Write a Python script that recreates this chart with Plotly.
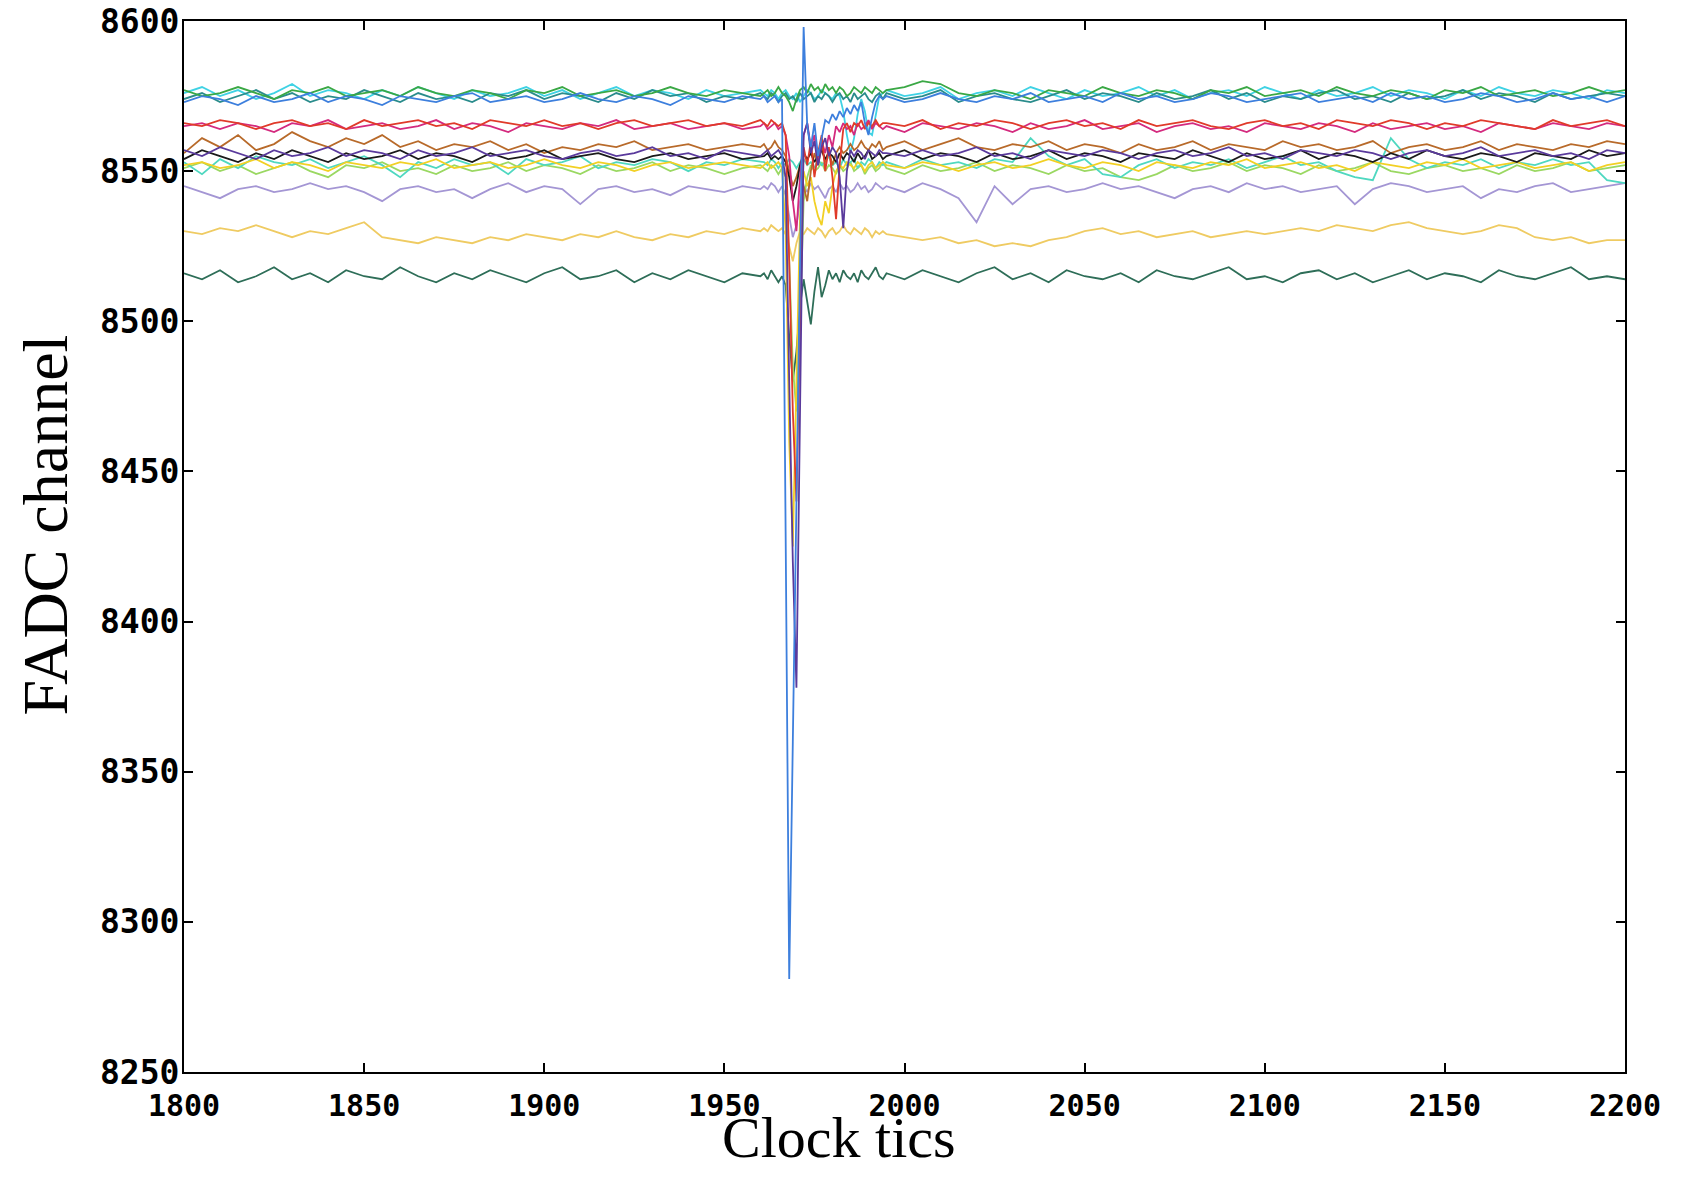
import plotly.graph_objects as go

# sample clock tics (coarse outside the pulse, every tic across the pulse)
CLOCK_TICS = list(range(1800, 1961, 5)) + list(range(1961, 1995)) + list(range(1995, 2201, 5))

X_TICKS = [1800, 1850, 1900, 1950, 2000, 2050, 2100, 2150, 2200]
Y_TICKS = [8250, 8300, 8350, 8400, 8450, 8500, 8550, 8600]

CYAN = [
    8576, 8578, 8575, 8577, 8574, 8576, 8579, 8575, 8577, 8576,
    8574, 8577, 8575, 8578, 8576, 8574, 8577, 8575, 8576, 8578,
    8575, 8577, 8574, 8576, 8578, 8575, 8577, 8576, 8574, 8577,
    8575, 8576, 8577,
] + [
    8576, 8575, 8577, 8576, 8574, 8576, 8577, 8575, 8574, 8576,
    8573, 8575, 8577, 8576, 8574, 8575, 8577, 8576, 8575, 8574,
    8576, 8575, 8570, 8562, 8556, 8561, 8569, 8574, 8570, 8563,
    8562, 8569, 8575, 8576,
] + [
    8577, 8575, 8576, 8578, 8574, 8576, 8577, 8575, 8578, 8576,
    8574, 8577, 8575, 8576, 8578, 8575, 8577, 8574, 8576, 8577,
    8575, 8578, 8576, 8574, 8577, 8575, 8576, 8578, 8575, 8577,
    8576, 8574, 8577, 8575, 8578, 8576, 8575, 8577, 8576, 8574,
    8577, 8576,
]

TEAL = [
    8574, 8576, 8573, 8575, 8577, 8574, 8576, 8573, 8575, 8574,
    8577, 8575, 8573, 8576, 8574, 8575, 8573, 8576, 8575, 8577,
    8574, 8576, 8575, 8573, 8576, 8574, 8577, 8575, 8576, 8573,
    8575, 8574, 8576,
] + [
    8575, 8574, 8576, 8575, 8573, 8575, 8576, 8574, 8575, 8573,
    8576, 8574, 8575, 8576, 8573, 8575, 8574, 8576, 8575, 8573,
    8575, 8576, 8574, 8575, 8573, 8576, 8574, 8575, 8576, 8574,
    8573, 8575, 8576, 8574,
] + [
    8576, 8574, 8575, 8577, 8573, 8575, 8576, 8574, 8573, 8575,
    8577, 8574, 8576, 8575, 8573, 8576, 8574, 8575, 8577, 8574,
    8576, 8573, 8575, 8574, 8576, 8577, 8574, 8575, 8573, 8576,
    8574, 8575, 8577, 8574, 8576, 8575, 8573, 8576, 8574, 8575,
    8576, 8575,
]

BLUE = [
    8573, 8575, 8574, 8572, 8575, 8573, 8574, 8576, 8573, 8575,
    8574, 8572, 8575, 8574, 8573, 8575, 8576, 8573, 8574, 8575,
    8573, 8574, 8576, 8574, 8573, 8575, 8574, 8572, 8575, 8574,
    8573, 8575, 8574,
] + [
    8575, 8573, 8574, 8575, 8573, 8574, 8430, 8281, 8360, 8440,
    8519, 8598, 8565, 8558, 8566, 8555, 8561, 8567, 8566, 8569,
    8567, 8570, 8568, 8571, 8569, 8572, 8570, 8573, 8566, 8562,
    8568, 8573, 8575, 8574,
] + [
    8575, 8573, 8574, 8576, 8574, 8573, 8575, 8574, 8576, 8573,
    8574, 8575, 8573, 8576, 8574, 8575, 8573, 8574, 8576, 8575,
    8573, 8574, 8575, 8576, 8573, 8574, 8575, 8573, 8576, 8574,
    8575, 8573, 8574, 8576, 8575, 8573, 8574, 8576, 8574, 8575,
    8573, 8575,
]

GREEN = [
    8577, 8575, 8576, 8578, 8576, 8574, 8577, 8576, 8578, 8575,
    8576, 8577, 8575, 8578, 8576, 8575, 8577, 8576, 8574, 8577,
    8576, 8578, 8575, 8576, 8577, 8575, 8576, 8578, 8576, 8575,
    8577, 8576, 8575,
] + [
    8576, 8577, 8575, 8576, 8578, 8576, 8575, 8573, 8570, 8574,
    8577, 8578, 8576, 8579, 8577, 8578, 8576, 8579, 8577, 8578,
    8576, 8578, 8577, 8575, 8576, 8578, 8577, 8576, 8578, 8577,
    8576, 8578, 8577, 8576,
] + [
    8577, 8578, 8580, 8579, 8576, 8575, 8577, 8576, 8574, 8577,
    8576, 8575, 8578, 8576, 8575, 8577, 8576, 8574, 8577, 8576,
    8578, 8575, 8576, 8577, 8575, 8578, 8576, 8575, 8577, 8576,
    8574, 8577, 8576, 8578, 8575, 8576, 8577, 8575, 8576, 8578,
    8576, 8577,
]

MAGENTA = [
    8565, 8566, 8564, 8566, 8565, 8563, 8566, 8565, 8567, 8564,
    8565, 8566, 8564, 8565, 8567, 8564, 8566, 8565, 8563, 8566,
    8565, 8564, 8566, 8565, 8567, 8564, 8565, 8566, 8564, 8565,
    8566, 8564, 8565,
] + [
    8566, 8564, 8565, 8566, 8564, 8565, 8562, 8555, 8540, 8530,
    8548, 8562, 8566, 8558, 8562, 8552, 8560, 8556, 8562, 8558,
    8565, 8563, 8566, 8564, 8565, 8562, 8566, 8564, 8565, 8567,
    8564, 8566, 8565, 8564,
] + [
    8565, 8563, 8566, 8565, 8564, 8566, 8565, 8563, 8566, 8564,
    8565, 8567, 8564, 8565, 8566, 8563, 8565, 8566, 8564, 8565,
    8563, 8566, 8565, 8564, 8566, 8565, 8563, 8566, 8564, 8565,
    8566, 8564, 8565, 8563, 8566, 8565, 8564, 8566, 8565, 8564,
    8566, 8565,
]

RED = [
    8566, 8565, 8567, 8566, 8564, 8566, 8567, 8565, 8566, 8564,
    8567, 8565, 8566, 8567, 8565, 8566, 8564, 8567, 8566, 8565,
    8567, 8565, 8566, 8564, 8566, 8567, 8565, 8566, 8567, 8565,
    8566, 8565, 8567,
] + [
    8566, 8565, 8567, 8566, 8565, 8566, 8562, 8520, 8470, 8440,
    8500, 8558, 8552, 8560, 8548, 8556, 8562, 8550, 8558, 8548,
    8534, 8552, 8564, 8566, 8563, 8566, 8565, 8567, 8564, 8566,
    8565, 8567, 8565, 8566,
] + [
    8566, 8565, 8567, 8564, 8566, 8565, 8567, 8566, 8564, 8566,
    8567, 8565, 8566, 8564, 8567, 8565, 8566, 8567, 8565, 8564,
    8566, 8567, 8565, 8566, 8564, 8567, 8566, 8565, 8567, 8566,
    8564, 8566, 8565, 8567, 8566, 8565, 8564, 8567, 8565, 8566,
    8567, 8565,
]

BROWN = [
    8556, 8561, 8558, 8562, 8557, 8559, 8563, 8560, 8558, 8561,
    8559, 8562, 8558, 8560, 8557, 8559, 8558, 8560, 8557, 8559,
    8556, 8558, 8557, 8559, 8558, 8560, 8557, 8558, 8559, 8557,
    8558, 8559, 8558,
] + [
    8559, 8557, 8558, 8560, 8558, 8557, 8555, 8550, 8545, 8548,
    8552, 8545, 8540, 8550, 8556, 8552, 8558, 8553, 8557, 8552,
    8556, 8558, 8556, 8557, 8559, 8557, 8558, 8560, 8558, 8557,
    8559, 8558, 8560, 8557,
] + [
    8558, 8560, 8557, 8559, 8561, 8558, 8557, 8559, 8558, 8560,
    8557, 8559, 8558, 8556, 8559, 8557, 8558, 8560, 8557, 8559,
    8558, 8557, 8560, 8558, 8559, 8557, 8558, 8560, 8556, 8558,
    8559, 8557, 8558, 8560, 8557, 8559, 8558, 8557, 8559, 8558,
    8560, 8559,
]

BLACK = [
    8554, 8557, 8555, 8553, 8556, 8554, 8557, 8555, 8553, 8556,
    8554, 8555, 8557, 8554, 8556, 8555, 8553, 8556, 8554, 8555,
    8557, 8554, 8555, 8556, 8554, 8553, 8555, 8556, 8554, 8555,
    8556, 8554, 8555,
] + [
    8555, 8556, 8554, 8555, 8554, 8555, 8553, 8548, 8540, 8545,
    8552, 8556, 8554, 8556, 8553, 8555, 8557, 8554, 8556, 8555,
    8553, 8556, 8554, 8556, 8555, 8553, 8556, 8554, 8555, 8557,
    8554, 8555, 8556, 8554,
] + [
    8555, 8557, 8554, 8556, 8555, 8553, 8556, 8554, 8555, 8557,
    8554, 8556, 8555, 8553, 8556, 8555, 8554, 8557, 8555, 8553,
    8556, 8554, 8555, 8557, 8554, 8556, 8555, 8553, 8556, 8554,
    8557, 8555, 8554, 8556, 8555, 8553, 8556, 8555, 8554, 8557,
    8555, 8556,
]

INDIGO = [
    8557, 8555, 8558, 8556, 8554, 8557, 8555, 8556, 8558, 8555,
    8557, 8556, 8554, 8557, 8555, 8556, 8558, 8555, 8556, 8557,
    8555, 8554, 8556, 8557, 8555, 8556, 8558, 8555, 8556, 8554,
    8557, 8556, 8555,
] + [
    8556, 8557, 8555, 8556, 8557, 8555, 8548, 8480, 8420, 8378,
    8470, 8562, 8566, 8556, 8560, 8552, 8558, 8561, 8555, 8558,
    8556, 8548, 8531, 8550, 8557, 8555, 8557, 8556, 8554, 8557,
    8556, 8555, 8557, 8556,
] + [
    8556, 8555, 8557, 8555, 8556, 8558, 8555, 8556, 8554, 8557,
    8556, 8555, 8557, 8556, 8554, 8556, 8557, 8555, 8556, 8558,
    8555, 8556, 8554, 8557, 8556, 8555, 8557, 8556, 8554, 8556,
    8557, 8555, 8556, 8558, 8555, 8556, 8557, 8555, 8556, 8554,
    8557, 8556,
]

TURQUOISE = [
    8553, 8549, 8554, 8551, 8555, 8553, 8552, 8554, 8551, 8553,
    8555, 8552, 8548, 8553, 8551, 8554, 8552, 8553, 8549, 8554,
    8552, 8553, 8555, 8551, 8553, 8552, 8554, 8553, 8550, 8553,
    8552, 8554, 8553,
] + [
    8553, 8552, 8554, 8553, 8551, 8553, 8552, 8554, 8553, 8551,
    8553, 8554, 8552, 8553, 8551, 8554, 8552, 8553, 8555, 8552,
    8553, 8551, 8554, 8552, 8553, 8554, 8551, 8553, 8552, 8554,
    8553, 8551, 8553, 8552,
] + [
    8553, 8551, 8554, 8552, 8553, 8551, 8554, 8553, 8561, 8555,
    8552, 8554, 8549, 8548, 8552, 8554, 8551, 8553, 8552, 8554,
    8551, 8553, 8555, 8552, 8553, 8550, 8548, 8547, 8561, 8554,
    8551, 8553, 8552, 8554, 8551, 8553, 8552, 8554, 8552, 8553,
    8547, 8546,
]

LIGHTGREEN = [
    8551, 8553, 8550, 8552, 8549, 8551, 8553, 8550, 8548, 8552,
    8551, 8553, 8550, 8551, 8549, 8552, 8550, 8551, 8553, 8550,
    8552, 8551, 8549, 8552, 8550, 8551, 8553, 8550, 8552, 8551,
    8549, 8551, 8552,
] + [
    8551, 8550, 8552, 8551, 8549, 8551, 8548, 8520, 8485, 8470,
    8500, 8540, 8548, 8552, 8550, 8551, 8553, 8550, 8552, 8551,
    8549, 8552, 8550, 8551, 8553, 8550, 8551, 8552, 8549, 8551,
    8552, 8550, 8551, 8553,
] + [
    8551, 8549, 8552, 8550, 8551, 8553, 8550, 8552, 8551, 8549,
    8552, 8550, 8551, 8548, 8547, 8549, 8552, 8550, 8551, 8553,
    8550, 8552, 8551, 8549, 8552, 8550, 8551, 8553, 8550, 8549,
    8551, 8552, 8550, 8551, 8549, 8552, 8550, 8551, 8553, 8550,
    8551, 8552,
]

YELLOW = [
    8552, 8553, 8551, 8552, 8554, 8551, 8553, 8552, 8550, 8553,
    8552, 8551, 8553, 8552, 8554, 8551, 8552, 8553, 8551, 8552,
    8554, 8552, 8551, 8553, 8552, 8550, 8552, 8553, 8551, 8552,
    8553, 8552, 8551,
] + [
    8552, 8553, 8551, 8552, 8553, 8551, 8530, 8460, 8425, 8480,
    8535, 8550, 8545, 8548, 8540, 8535, 8532, 8540, 8536, 8545,
    8550, 8552, 8551, 8553, 8552, 8551, 8553, 8552, 8550, 8552,
    8553, 8551, 8552, 8553,
] + [
    8552, 8551, 8553, 8552, 8550, 8552, 8553, 8551, 8552, 8554,
    8552, 8551, 8553, 8552, 8550, 8553, 8552, 8551, 8553, 8552,
    8554, 8551, 8552, 8553, 8551, 8552, 8550, 8553, 8552, 8551,
    8553, 8552, 8554, 8551, 8552, 8553, 8551, 8552, 8553, 8550,
    8552, 8553,
]

LAVENDER = [
    8545, 8543, 8541, 8544, 8545, 8543, 8544, 8546, 8544, 8545,
    8543, 8540, 8544, 8545, 8543, 8544, 8541, 8544, 8546, 8543,
    8545, 8544, 8539, 8544, 8545, 8543, 8544, 8542, 8545, 8544,
    8543, 8545, 8544,
] + [
    8545, 8544, 8546, 8545, 8543, 8545, 8542, 8535, 8528, 8532,
    8540, 8545, 8543, 8546, 8544, 8545, 8543, 8541, 8544, 8545,
    8543, 8546, 8544, 8545, 8543, 8544, 8546, 8544, 8545, 8543,
    8544, 8546, 8545, 8544,
] + [
    8545, 8543, 8546, 8544, 8541, 8533, 8545, 8539, 8544, 8545,
    8543, 8544, 8546, 8544, 8545, 8543, 8541, 8544, 8545, 8543,
    8546, 8544, 8545, 8543, 8544, 8545, 8539, 8544, 8546, 8545,
    8543, 8544, 8545, 8541, 8544, 8543, 8545, 8546, 8543, 8544,
    8545, 8546,
]

GOLD = [
    8530, 8529, 8531, 8530, 8532, 8530, 8528, 8530, 8529, 8531,
    8533, 8528, 8527, 8526, 8528, 8527, 8526, 8528, 8527, 8529,
    8528, 8527, 8529, 8528, 8530, 8528, 8527, 8529, 8528, 8530,
    8529, 8531, 8530,
] + [
    8531, 8530, 8532, 8531, 8530, 8531, 8529, 8525, 8520, 8526,
    8530, 8529, 8531, 8530, 8529, 8531, 8530, 8528, 8530, 8531,
    8529, 8530, 8532, 8530, 8529, 8531, 8530, 8529, 8531, 8530,
    8528, 8530, 8529, 8530,
] + [
    8529, 8528, 8527, 8528, 8526, 8527, 8525, 8526, 8525, 8527,
    8528, 8530, 8531, 8529, 8530, 8528, 8529, 8530, 8528, 8529,
    8530, 8529, 8530, 8531, 8530, 8532, 8531, 8530, 8532, 8533,
    8531, 8530, 8529, 8530, 8532, 8531, 8528, 8527, 8528, 8526,
    8527, 8527,
]

DARKGREEN = [
    8516, 8514, 8517, 8513, 8515, 8518, 8514, 8516, 8513, 8517,
    8515, 8514, 8518, 8515, 8513, 8516, 8514, 8517, 8515, 8513,
    8516, 8518, 8514, 8515, 8517, 8513, 8516, 8514, 8517, 8515,
    8513, 8516, 8515,
] + [
    8516, 8514, 8517, 8515, 8513, 8515, 8512, 8495, 8480, 8490,
    8505, 8514, 8506, 8499, 8510, 8518, 8508, 8512, 8517, 8514,
    8516, 8513, 8517, 8515, 8514, 8516, 8513, 8517, 8515, 8514,
    8516, 8518, 8515, 8514,
] + [
    8516, 8514, 8517, 8515, 8513, 8516, 8518, 8514, 8516, 8513,
    8517, 8515, 8514, 8516, 8513, 8517, 8515, 8514, 8516, 8518,
    8514, 8515, 8513, 8516, 8517, 8514, 8516, 8513, 8515, 8517,
    8514, 8516, 8515, 8513, 8517, 8515, 8514, 8516, 8518, 8514,
    8515, 8514,
]

SERIES = [
    ("gold", GOLD, "#efcb62"),
    ("lavender", LAVENDER, "#a496d4"),
    ("darkgreen", DARKGREEN, "#2e6e58"),
    ("lightgreen", LIGHTGREEN, "#9ad862"),
    ("turquoise", TURQUOISE, "#4fd8c0"),
    ("yellow", YELLOW, "#f2d024"),
    ("cyan", CYAN, "#3fd2e4"),
    ("teal", TEAL, "#2a8c8c"),
    ("green", GREEN, "#3aa845"),
    ("brown", BROWN, "#b86a2a"),
    ("black", BLACK, "#1a1a1a"),
    ("magenta", MAGENTA, "#d42a7e"),
    ("red", RED, "#e03a2a"),
    ("indigo", INDIGO, "#5a3a9c"),
    ("blue", BLUE, "#3d7fdd"),
]

fig = go.Figure()
for name, ys, color in SERIES:
    fig.add_trace(go.Scatter(
        x=CLOCK_TICS, y=ys, mode="lines", name=name,
        line=dict(color=color, width=1.8), showlegend=False,
    ))

axis_common = dict(
    showgrid=False, zeroline=False, showline=True, linecolor="black",
    linewidth=2, mirror="ticks", ticks="inside", ticklen=9, tickwidth=2,
    tickcolor="black", automargin=False, ticklabeloverflow="allow",
)
fig.update_xaxes(range=[1800, 2200], tickvals=X_TICKS, ticktext=[str(v) for v in X_TICKS],
                 ticklabelstandoff=6,
                 tickfont=dict(family="DejaVu Sans Mono", size=30, color="black", weight="bold"),
                 **axis_common)
fig.update_yaxes(range=[8250, 8600], tickvals=Y_TICKS, ticktext=[str(v) for v in Y_TICKS],
                 ticklabelstandoff=-4,
                 tickfont=dict(family="DejaVu Sans Mono", size=33, color="black", weight="bold"),
                 **axis_common)

fig.add_annotation(text="Clock tics", xref="paper", yref="paper", x=0.4545, y=-0.0625,
                   xanchor="center", yanchor="middle", showarrow=False,
                   font=dict(family="Liberation Serif", size=58, color="black"))
fig.add_annotation(text="FADC channel", xref="paper", yref="paper", x=-0.096, y=0.5205,
                   xanchor="center", yanchor="middle", showarrow=False, textangle=-90,
                   font=dict(family="Liberation Serif", size=64, color="black"))

fig.update_layout(
    width=1681, height=1178,
    margin=dict(l=184, r=56, t=21, b=106),
    paper_bgcolor="white", plot_bgcolor="white",
)

fig.write_html(
    "out.html",
    config={"displayModeBar": False},
    post_script="document.body.style.margin='0';document.body.style.overflow='hidden';",
)
